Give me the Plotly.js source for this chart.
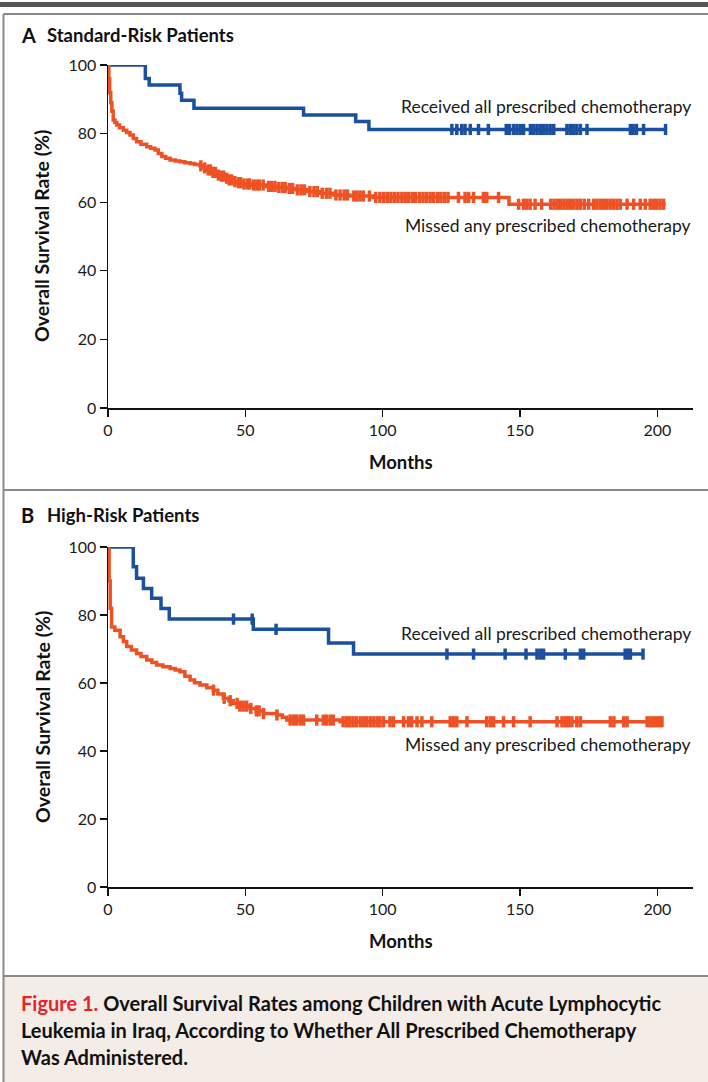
<!DOCTYPE html>
<html>
<head>
<meta charset="utf-8">
<script src="https://cdn.plot.ly/plotly-3.0.1.min.js"></script>
<style>html,body{margin:0;padding:0;background:#fff;}#chart{width:708px;height:1082px;}</style>
</head>
<body>
<div id="chart"></div>
<script>
// ---------- Data ----------
const xTicks = [0, 50, 100, 150, 200];
const yTicks = [0, 20, 40, 60, 80, 100];

// Panel A: Standard-risk patients
const aRecT = [0, 13.6, 15, 26.2, 26.8, 31.3, 71.2, 90.2, 95, 203.5];
const aRecS = [100, 96.1, 94.2, 91.8, 89.7, 87.4, 85.4, 83.5, 81.2, 81.2];
const aRecCens = [125.2, 127, 128.8, 130, 131.9, 134.9, 138.5, 145, 146.2, 147.7, 148.9, 150.1, 151.3,
  153.8, 155, 156.2, 157.4, 158.6, 159.8, 161, 162.3, 167.1, 168.3, 169.5, 170.7, 172, 174.4,
  190.2, 191.2, 192.4, 195, 203];

const aMisT = [0, 0.3, 0.6, 1.0, 1.4, 1.9, 2.5, 3.2, 4.2, 5.6, 6.8, 8, 9.2, 10.4, 12, 14.1, 15.5, 17.1,
  18.3, 19.6, 21, 22.6, 24.5, 26.2, 28, 29.9, 31.5, 33.5, 35, 36, 37.8, 39.6, 40.8, 42.5, 43.8, 45.6,
  47, 48.7, 52, 57.8, 61, 65.1, 68.5, 72.4, 77, 82.1, 88, 96.6, 146, 203];
const aMisS = [100, 96, 92, 89, 86.5, 84, 83.2, 82.5, 81.7, 81, 80.3, 79.6, 78.6, 77.6, 76.9, 76.2, 75.7, 75.2,
  74.2, 73.3, 72.8, 72.3, 72, 71.8, 71.5, 71.3, 71, 70.6, 70, 69.4, 68.7, 67.9, 67.6, 67, 66.5, 66,
  65.7, 65.3, 65, 64.6, 64.3, 64, 63.6, 63.1, 62.6, 62.1, 61.8, 61.4, 59.4, 59.4];
const aMisCens = [33.8, 35.2, 36.5, 37.3, 38.2, 39.1, 40.2, 41.3, 42.1, 43.2, 44.1, 45, 46.2, 47.5, 48.3,
  49.5, 50.8, 51.6, 53, 54.2, 55.1, 56.5, 58.5, 59.6, 60.8, 62.2, 63.5, 64.5, 66, 67.2, 69, 70.3, 71.5,
  73.5, 75, 76.2, 78, 79.5, 80.8, 83, 84.5, 86, 87.2, 89.5, 90.6, 91.8, 93, 95.2, 97.5, 99, 100.4,
  101.7, 103, 104.3, 105.6, 107, 108.2, 109.5, 110.8, 112, 113.4, 114.7, 116, 117.3, 118.6, 120,
  121.2, 122.5, 123.8, 127.6, 130, 131.3, 133.1, 136.7, 137.9, 142.2, 149.5, 151.3, 152.5, 153.7,
  155.5, 157.9, 161.2, 162.4, 163.6, 164.8, 166, 167.2, 168.4, 169.6, 170.8, 172, 173.4, 175, 176.8,
  178, 179.2, 180.4, 181.6, 182.8, 184, 185.3, 186.5, 189, 191.4, 193.8, 195.6, 197.4, 198.6, 199.8,
  201, 202.3];

// Panel B: High-risk patients
const bRecT = [0, 9.2, 10.4, 12.9, 15.9, 19.3, 22.3, 52.9, 80.3, 89.4, 195];
const bRecS = [100, 94.2, 90.8, 87.8, 84.9, 81.9, 78.8, 75.8, 71.8, 68.5, 68.5];
const bRecCens = [45.7, 52.5, 61.2, 123.4, 133.1, 144.6, 152.2, 156.2, 157.4, 158.6, 166.5, 172, 173.2,
  188.3, 189.3, 190.2, 194.8];

const bMisT = [0, 0.4, 0.8, 1.3, 2.5, 4.4, 5.6, 6.8, 8.5, 10.4, 12, 14.1, 16, 17.7, 20, 22.6, 24.5, 26.2,
  28, 29.9, 31.5, 33.5, 36, 38.4, 40, 42, 44, 45.6, 48, 51.7, 54, 56.6, 61.5, 63.5, 65.1, 84.5, 202];
const bMisS = [100, 90, 82, 76.5, 75.5, 73.6, 72.2, 70.7, 69.7, 68.7, 67.8, 66.8, 66, 65.3, 64.8, 64.3, 63.8,
  63.3, 62, 60.9, 60.1, 59.4, 58.6, 57.9, 56.8, 55.5, 54.8, 54, 53.2, 52.5, 51.8, 51, 50.6, 49.9, 49.1,
  48.6, 48.6];
const bMisCens = [38.4, 42.3, 44.5, 47, 48, 49.2, 50.5, 52, 54, 55, 56.6, 61.5, 66.3, 67.5, 68.7, 70, 71.2,
  76, 78.4, 79.6, 80.9, 82, 85.6, 86.8, 88, 89.2, 90.4, 91.8, 93, 94.2, 95.5, 96.8, 98, 99, 100.3,
  102.7, 103.9, 107.6, 109.4, 110.6, 112.5, 114.3, 117.9, 124.6, 125.8, 127, 130.7, 137.9, 139.2,
  140.4, 144, 147.7, 153.7, 163.5, 165.3, 166.5, 167.7, 168.9, 170.7, 172, 182.9, 184.2, 187.8, 189,
  196.3, 197.4, 198.6, 199.8, 200.8, 201.7];

// ---------- Styling ----------
const W = 708, H = 1082;
const BLUE = '#1b4f9f';
const RED = '#ee5224';
const FONT = 'Lato, "Open Sans", sans-serif';
const px = v => v / W;
const py = v => 1 - v / H;

function survAt(T, S, t) {
  let s = S[0];
  for (let i = 0; i < T.length; i++) { if (T[i] <= t) s = S[i]; else break; }
  return s;
}

function curve(T, S, color, xa, ya) {
  return { x: T, y: S, xaxis: xa, yaxis: ya, type: 'scatter', mode: 'lines',
    line: { shape: 'hv', color: color, width: 3.5 }, cliponaxis: false, hoverinfo: 'skip' };
}
function cens(C, T, S, color, xa, ya) {
  return { x: C, y: C.map(t => survAt(T, S, t)), xaxis: xa, yaxis: ya, type: 'scatter', mode: 'markers',
    marker: { symbol: 'line-ns', size: 8, color: color, line: { color: color, width: 3.5 } },
    cliponaxis: false, hoverinfo: 'skip' };
}

const traces = [
  curve(aRecT, aRecS, BLUE, 'x', 'y'),
  cens(aRecCens, aRecT, aRecS, BLUE, 'x', 'y'),
  curve(aMisT, aMisS, RED, 'x', 'y'),
  cens(aMisCens, aMisT, aMisS, RED, 'x', 'y'),
  curve(bRecT, bRecS, BLUE, 'x2', 'y2'),
  cens(bRecCens, bRecT, bRecS, BLUE, 'x2', 'y2'),
  curve(bMisT, bMisS, RED, 'x2', 'y2'),
  cens(bMisCens, bMisT, bMisS, RED, 'x2', 'y2'),
];

const tickFont = { family: FONT, size: 16, color: '#1a1a1a' };
const xDomain = [px(108), px(693)];
function xAxis(anchor) {
  return { domain: xDomain, anchor: anchor, range: [0, 213], tickvals: xTicks, ticks: 'outside', ticklen: 7,
    tickwidth: 1.3, tickcolor: '#111', showline: true, linecolor: '#111', linewidth: 1.5, showgrid: false,
    zeroline: false, tickfont: tickFont, fixedrange: true };
}
function yAxis(anchor, top, bottom) {
  return { domain: [py(bottom), py(top)], anchor: anchor, range: [0, 100], tickvals: yTicks, ticks: 'outside',
    ticklen: 7, tickwidth: 1.3, tickcolor: '#111', showline: true, linecolor: '#111', linewidth: 1.5,
    showgrid: false, zeroline: false, tickfont: tickFont, fixedrange: true };
}

const boldText = (t, x, y, size, extra) => Object.assign({ text: t, xref: 'paper', yref: 'paper', x: px(x), y: py(y),
  showarrow: false, font: { family: FONT, size: size, color: '#111', weight: 700 } }, extra || {});
const normText = (t, x, y, extra) => Object.assign({ text: t, xref: 'paper', yref: 'paper', x: px(x), y: py(y),
  showarrow: false, font: { family: FONT, size: 17.5, color: '#1a1a1a' } }, extra || {});

const annotations = [
  boldText('<b>A</b>', 19, 35, 20, { xanchor: 'left', yanchor: 'middle' }),
  boldText('<b>Standard-Risk Patients</b>', 45, 35, 18.5, { xanchor: 'left', yanchor: 'middle' }),
  boldText('<b>B</b>', 19, 515, 20, { xanchor: 'left', yanchor: 'middle' }),
  boldText('<b>High-Risk Patients</b>', 45, 515, 18.5, { xanchor: 'left', yanchor: 'middle' }),
  boldText('<b>Overall Survival Rate (%)</b>', 42, 236, 19.5, { textangle: -90, xanchor: 'center', yanchor: 'middle' }),
  boldText('<b>Overall Survival Rate (%)</b>', 42, 717, 19.5, { textangle: -90, xanchor: 'center', yanchor: 'middle' }),
  boldText('<b>Months</b>', 401, 462, 18.5, { xanchor: 'center', yanchor: 'middle' }),
  boldText('<b>Months</b>', 401, 941, 18.5, { xanchor: 'center', yanchor: 'middle' }),
  normText('Received all prescribed chemotherapy', 693, 106, { xanchor: 'right', yanchor: 'middle' }),
  normText('Missed any prescribed chemotherapy', 693, 226, { xanchor: 'right', yanchor: 'middle' }),
  normText('Received all prescribed chemotherapy', 693, 633, { xanchor: 'right', yanchor: 'middle' }),
  normText('Missed any prescribed chemotherapy', 693, 744, { xanchor: 'right', yanchor: 'middle' }),
  { text: '<b><span style="color:#e8232a">Figure 1.</span> Overall Survival Rates among Children with Acute Lymphocytic</b>',
    xref: 'paper', yref: 'paper', x: px(19), y: py(1003), xanchor: 'left', yanchor: 'middle', showarrow: false,
    font: { family: FONT, size: 20, color: '#111' } },
  { text: '<b>Leukemia in Iraq, According to Whether All Prescribed Chemotherapy</b>',
    xref: 'paper', yref: 'paper', x: px(19), y: py(1030), xanchor: 'left', yanchor: 'middle', showarrow: false,
    font: { family: FONT, size: 20, color: '#111' } },
  { text: '<b>Was Administered.</b>',
    xref: 'paper', yref: 'paper', x: px(19), y: py(1057), xanchor: 'left', yanchor: 'middle', showarrow: false,
    font: { family: FONT, size: 20, color: '#111' } },
];

const shapes = [
  { type: 'rect', xref: 'paper', yref: 'paper', x0: 0, x1: 1, y0: py(7), y1: py(2), fillcolor: '#555', line: { width: 0 }, layer: 'below' },
  { type: 'rect', xref: 'paper', yref: 'paper', x0: px(3.5), x1: px(712), y0: py(976), y1: py(1090), fillcolor: '#f3ece7', line: { width: 0 }, layer: 'below' },
  { type: 'line', xref: 'paper', yref: 'paper', x0: px(3.5), x1: px(3.5), y0: py(14), y1: py(1090), line: { color: '#8a8a8a', width: 2 } },
  { type: 'line', xref: 'paper', yref: 'paper', x0: px(3.5), x1: 1, y0: py(14), y1: py(14), line: { color: '#8a8a8a', width: 2 } },
  { type: 'line', xref: 'paper', yref: 'paper', x0: px(3.5), x1: 1, y0: py(490), y1: py(490), line: { color: '#8a8a8a', width: 2 } },
  { type: 'line', xref: 'paper', yref: 'paper', x0: px(3.5), x1: 1, y0: py(976), y1: py(976), line: { color: '#8a8a8a', width: 2 } },
];

const layout = {
  width: W, height: H, margin: { l: 0, r: 0, t: 0, b: 0 }, paper_bgcolor: '#fff', plot_bgcolor: 'rgba(0,0,0,0)',
  showlegend: false, font: { family: FONT, color: '#111' },
  xaxis: xAxis('y'), yaxis: yAxis('x', 65, 408),
  xaxis2: xAxis('y2'), yaxis2: yAxis('x2', 547, 887),
  annotations: annotations, shapes: shapes,
};

Plotly.newPlot('chart', traces, layout, { displayModeBar: false, staticPlot: true });
</script>
</body>
</html>
